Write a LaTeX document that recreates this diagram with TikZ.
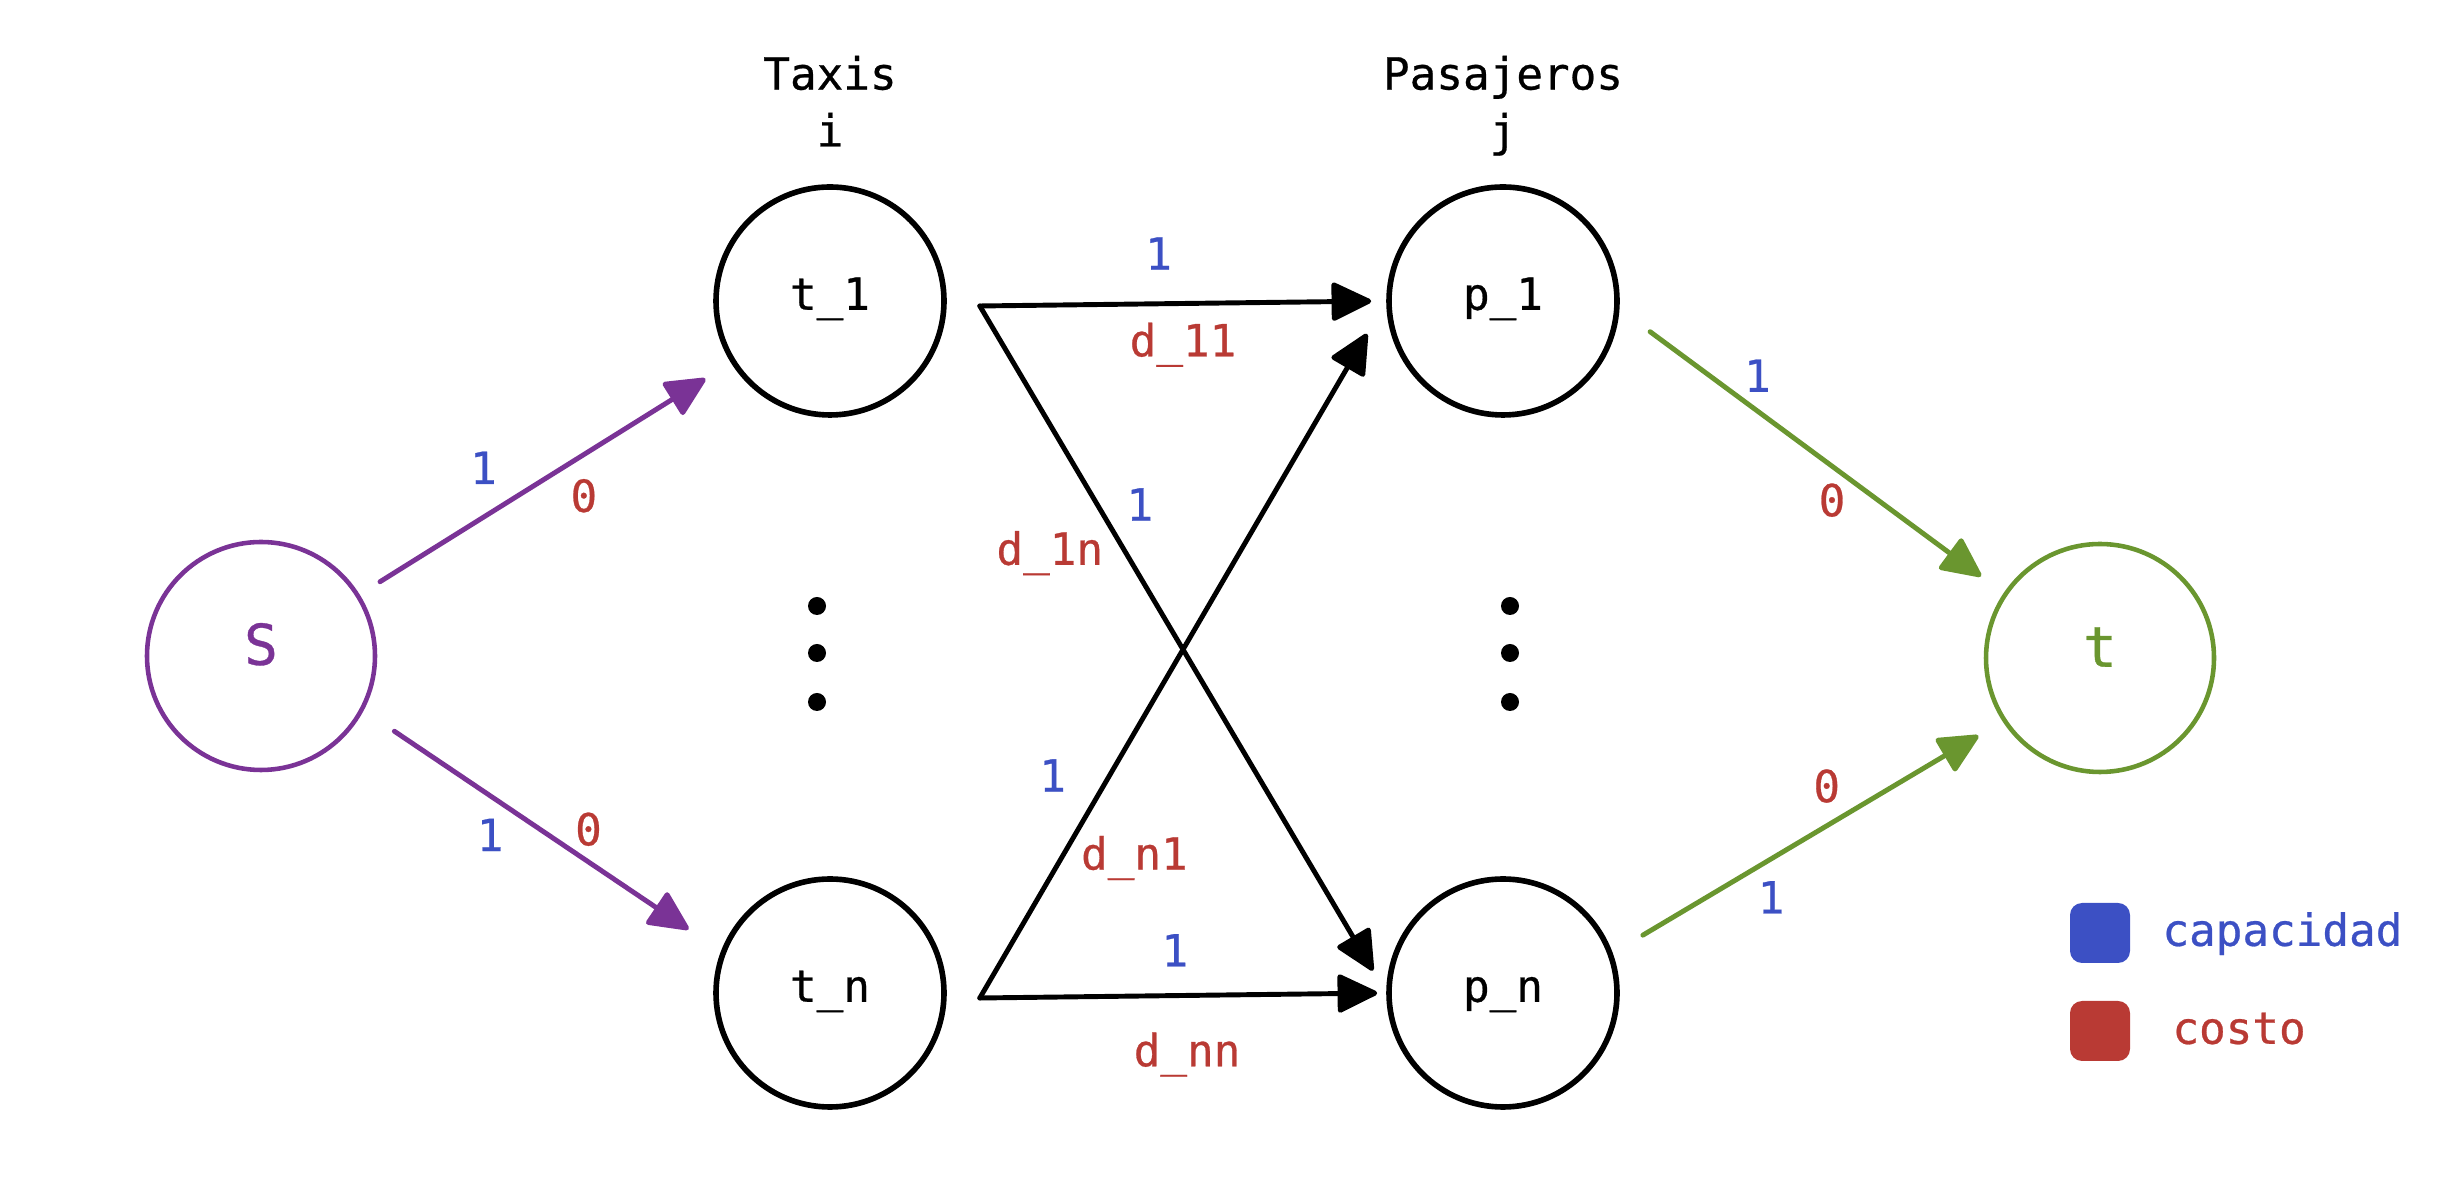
\documentclass[tikz,border=0pt]{standalone}
\usepackage{fontspec}
\setmainfont{DejaVu Sans Mono}[FakeBold=0.6]
\usetikzlibrary{arrows.meta,positioning}
\definecolor{srcpurple}{RGB}{122,51,150}
\definecolor{sinkgreen}{RGB}{106,150,47}
\definecolor{capblue}{RGB}{60,80,196}
\definecolor{costred}{RGB}{185,58,52}
\tikzset{
	vertex/.style={circle,draw,line width=1.6pt,minimum size=2.28cm,inner sep=0pt,
		font=\fontsize{12.6}{15}\selectfont,text height=0.8em,text depth=0.3em},
	endvertex/.style={vertex,line width=1.3pt,font=\fontsize{16}{19}\selectfont},
	flow/.style={line width=1.4pt,line cap=round,-{Triangle[length=4.3mm,width=4mm,round]}},
	lbl/.style={inner sep=0pt,font=\fontsize{12.6}{15}\selectfont,text height=0.73em,text depth=0pt},
	capl/.style={lbl,text=capblue},
	costl/.style={lbl,text=costred},
	heading/.style={align=center,inner sep=0pt,font=\fontsize{12.6}{16.2}\selectfont,text depth=0pt},
	keybox/.style={rounded corners=0.12cm,minimum size=0.6cm,inner sep=0pt}
}
\begin{document}
\begin{tikzpicture}
	\useasboundingbox (0,0) rectangle (24.48,11.78);
	\node[endvertex,draw=srcpurple,text=srcpurple] (s) at (2.61,5.22) {S};
	\node[vertex] (t1) at (8.30,8.77) {t\_1};
	\node[vertex] (tn) at (8.30,1.85) {t\_n};
	\node[vertex] (p1) at (15.03,8.77) {p\_1};
	\node[vertex] (pn) at (15.03,1.85) {p\_n};
	\node[endvertex,draw=sinkgreen,text=sinkgreen] (t) at (21.00,5.20) {t};
	\node[heading,above=0.37cm of t1] (taxis) {Taxis\\i};
	\node[heading,above=0.37cm of p1] (pasaj) {Pasajeros\\j};
	\foreach \y in {5.72,5.25,4.76} {
		\fill (8.17,\y) circle (0.09);
		\fill (15.10,\y) circle (0.09);
	}
	\coordinate (o1) at ([shift={(0.33,-0.05)}]t1.east);
	\coordinate (on) at ([shift={(0.33,-0.05)}]tn.east);
	\draw[flow,srcpurple,shorten <=0.24cm,shorten >=0.30cm] (s) -- (t1)
		node[capl,pos=0.39,xshift=-0.21cm,yshift=0.33cm] {1}
		node[costl,pos=0.55,xshift=0.20cm,yshift=-0.32cm] {0};
	\draw[flow,srcpurple,shorten <=0.37cm,shorten >=0.39cm] (s.-28) -- (tn.159)
		node[capl,pos=0.41,xshift=-0.20cm,yshift=-0.29cm] {1}
		node[costl,pos=0.59,xshift=0.14cm,yshift=0.20cm] {0};
	\draw[flow,shorten >=0.15cm] (o1) -- (p1.west)
		node[capl,pos=0.44,yshift=0.47cm] {1}
		node[costl,pos=0.50,yshift=-0.40cm] {d\_11};
	\draw[flow,shorten >=0.26cm] (o1) -- (pn.west)
		node[capl,pos=0.32,xshift=0.30cm,yshift=0.18cm] {1}
		node[costl,pos=0.31,xshift=-0.56cm,yshift=-0.33cm] {d\_1n};
	\draw[flow,shorten >=0.38cm] (on) -- (p1.west)
		node[capl,pos=0.28,xshift=-0.41cm,yshift=0.24cm] {1}
		node[costl,pos=0.25,xshift=0.53cm,yshift=-0.33cm] {d\_n1};
	\draw[flow,shorten >=0.09cm] (on) -- (pn.west)
		node[capl,pos=0.48,yshift=0.42cm] {1}
		node[costl,pos=0.51,yshift=-0.58cm] {d\_nn};
	\draw[flow,sinkgreen,shorten <=0.38cm,shorten >=0.28cm] (p1.-4) -- (t.146)
		node[capl,pos=0.32,xshift=0.15cm,yshift=0.21cm] {1}
		node[costl,pos=0.60,xshift=-0.18cm,yshift=-0.24cm] {0};
	\draw[flow,sinkgreen,shorten <=0.35cm,shorten >=0.28cm] (pn.20) -- (t.213)
		node[costl,pos=0.59,xshift=-0.16cm,yshift=0.27cm] {0}
		node[capl,pos=0.36,xshift=0.18cm,yshift=-0.31cm] {1};
	% legend
	\node[keybox,fill=capblue] (kcap) at (21.00,2.45) {};
	\node[capl,right=0.31cm of kcap] (kcaptxt) {capacidad};
	\node[keybox,fill=costred] (kcost) at (21.00,1.47) {};
	\node[costl,right=0.41cm of kcost] (kcosttxt) {costo};
\end{tikzpicture}
\end{document}
